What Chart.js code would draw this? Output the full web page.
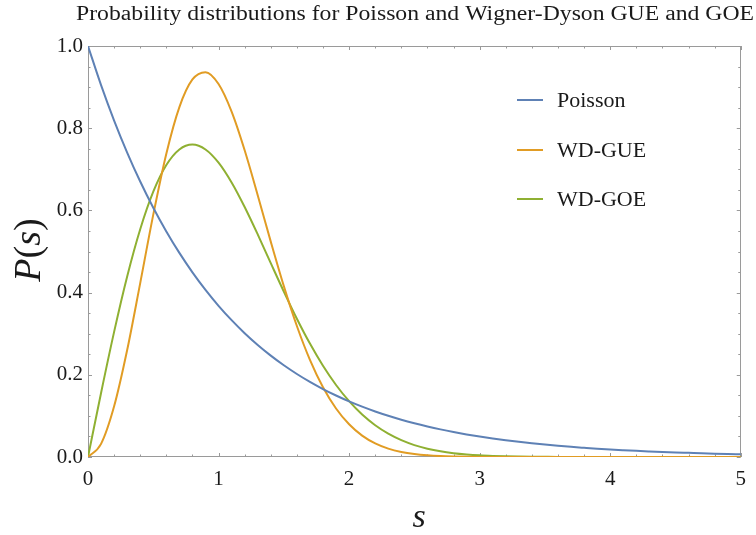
<!DOCTYPE html>
<html><head><meta charset="utf-8">
<script src="https://cdn.jsdelivr.net/npm/chart.js@4.4.0/dist/chart.umd.min.js"></script>
<style>html,body{margin:0;padding:0;background:#fff;overflow:hidden}#wrap{width:756px;height:535px}</style>
</head><body><div id="wrap"><canvas id="c" width="756" height="535"></canvas></div>
<script>
const sValues = [0,0.1,0.2,0.3,0.4,0.5,0.6,0.7,0.8,0.9,1.0,1.1,1.2,1.3,1.4,1.5,1.6,1.7,1.8,1.9,2.0,2.1,2.2,2.3,2.4,2.5,2.6,2.7,2.8,2.9,3.0,3.1,3.2,3.3,3.4,3.5,3.6,3.7,3.8,3.9,4.0,4.1,4.2,4.3,4.4,4.5,4.6,4.7,4.8,4.9,5.0];
const poisson = [1,0.9048,0.8187,0.7408,0.6703,0.6065,0.5488,0.4966,0.4493,0.4066,0.3679,0.3329,0.3012,0.2725,0.2466,0.2231,0.2019,0.1827,0.1653,0.1496,0.1353,0.1225,0.1108,0.1003,0.0907,0.0821,0.0743,0.0672,0.0608,0.0550,0.0498,0.0450,0.0408,0.0369,0.0334,0.0302,0.0273,0.0247,0.0224,0.0202,0.0183,0.0166,0.0150,0.0136,0.0123,0.0111,0.0101,0.0091,0.0082,0.0074,0.0067];
const wdGUE = [0,0.0320,0.1233,0.2602,0.4232,0.5896,0.7380,0.8514,0.9186,0.9364,0.9076,0.8405,0.7464,0.6371,0.5240,0.4158,0.3188,0.2364,0.1698,0.1181,0.0796,0.0521,0.0331,0.0204,0.0122,0.0071,0.0040,0.0022,0.0012,0.0006,0.0003,0.00015,0.00007,0.00003,0.00001,0,0,0,0,0,0,0,0,0,0,0,0,0,0,0,0];
const wdGOE = [0,0.1559,0.3044,0.4391,0.5541,0.6454,0.7104,0.7483,0.7602,0.7483,0.7162,0.6680,0.6083,0.5416,0.4717,0.4025,0.3365,0.2759,0.2220,0.1752,0.1358,0.1033,0.0772,0.0567,0.0409,0.0290,0.0202,0.0138,0.0093,0.0062,0.0040,0.0026,0.0016,0.0010,0.0006,0.0004,0.0002,0.0001,0.00007,0.00004,0.00002,0,0,0,0,0,0,0,0,0,0];
const xTickValues = [0,1,2,3,4,5];
const yTickValues = [0,0.2,0.4,0.6,0.8,1.0];
const seriesNames = ['Poisson','WD-GUE','WD-GOE'];
const seriesColors = ['#5E81B5','#E19C24','#8FB032'];
const titleText = 'Probability distributions for Poisson and Wigner-Dyson GUE and GOE';

const SERIF = '"Liberation Serif", "DejaVu Serif", serif';
const FRAME = '#9a9a9a';
const TEXT = '#1a1a1a';

function pts(ys){ return sValues.map((x,i)=>({x:x,y:ys[i]})); }
const allSeries = [poisson, wdGUE, wdGOE];

const decor = {
  id:'decor',
  beforeDatasetsDraw(chart){
    const ctx = chart.ctx, a = chart.chartArea;
    const xs = chart.scales.x, ys = chart.scales.y;
    ctx.save();
    ctx.strokeStyle = FRAME; ctx.lineWidth = 1;
    ctx.strokeRect(Math.round(a.left)+0.5, Math.round(a.top)+0.5, Math.round(a.right-a.left)-1, Math.round(a.bottom-a.top)-1);
    ctx.beginPath();
    for(let k=0;k<=25;k++){
      const v = k*0.2; const major = (k%5===0);
      const len = major?4:2.5;
      const px = Math.round(xs.getPixelForValue(v))+0.5;
      ctx.moveTo(px,a.bottom); ctx.lineTo(px,a.bottom-len);
      ctx.moveTo(px,a.top); ctx.lineTo(px,a.top+len);
    }
    for(let k=0;k<=20;k++){
      const v = k*0.05; const major = (k%4===0);
      const len = major?4:2.5;
      const py = Math.round(ys.getPixelForValue(v))+0.5;
      ctx.moveTo(a.left,py); ctx.lineTo(a.left+len,py);
      ctx.moveTo(a.right,py); ctx.lineTo(a.right-len,py);
    }
    ctx.stroke();
    ctx.restore();
  },
  afterDraw(chart){
    const ctx = chart.ctx;
    ctx.save();
    ctx.fillStyle = TEXT;
    ctx.font = '20px '+SERIF;
    ctx.textBaseline = 'alphabetic';
    const tw = ctx.measureText(titleText).width;
    const target = 754-76;
    ctx.save();
    ctx.translate(76,19.5);
    ctx.scale(target/tw,1);
    ctx.fillText(titleText,0,0);
    ctx.restore();
    const parts = [['P','italic 38px '+SERIF],['(','38px '+SERIF],['s','italic 38px '+SERIF],[')','38px '+SERIF]];
    let total = 0; const widths=[];
    parts.forEach(p=>{ctx.font=p[1]; const w=ctx.measureText(p[0]).width; widths.push(w); total+=w;});
    ctx.save();
    ctx.translate(40,250);
    ctx.rotate(-Math.PI/2);
    let cx = -total/2;
    parts.forEach((p,i)=>{ctx.font=p[1]; ctx.fillText(p[0],cx,0); cx+=widths[i];});
    ctx.restore();
    ctx.font = 'italic 34px '+SERIF;
    ctx.textAlign = 'center';
    ctx.fillText('s',419,527);
    ctx.textAlign = 'left';
    ctx.textBaseline = 'middle';
    ctx.font = '22px '+SERIF;
    const ly = [100,150,199];
    seriesNames.forEach((n,i)=>{
      ctx.strokeStyle = seriesColors[i]; ctx.lineWidth = 2;
      ctx.beginPath(); ctx.moveTo(517,ly[i]); ctx.lineTo(543,ly[i]); ctx.stroke();
      ctx.fillStyle = TEXT;
      ctx.fillText(n,557,ly[i]+1);
    });
    ctx.restore();
  }
};

new Chart(document.getElementById('c'),{
  type:'scatter',
  data:{datasets: seriesNames.map((n,i)=>({
    label:n, data:pts(allSeries[i]), showLine:true, borderColor:seriesColors[i],
    backgroundColor:seriesColors[i], borderWidth:2, pointRadius:0, pointHoverRadius:0,
    cubicInterpolationMode:'monotone', fill:false
  }))},
  options:{
    responsive:false, devicePixelRatio:1, animation:false,
    layout:{padding:{top:46,right:5,left:0,bottom:0}},
    plugins:{legend:{display:false},title:{display:false},tooltip:{enabled:false}},
    scales:{
      x:{type:'linear',min:0,max:5,
        afterFit(s){s.height=78;},
        afterBuildTicks(s){s.ticks = xTickValues.map(v=>({value:v}));},
        grid:{display:false,drawTicks:false,tickLength:0}, border:{display:false},
        ticks:{color:TEXT,font:{family:SERIF,size:21},padding:10,maxRotation:0,callback:v=>String(v)}},
      y:{type:'linear',min:0,max:1,
        afterFit(s){s.width=88;},
        afterBuildTicks(s){s.ticks = yTickValues.map(v=>({value:v}));},
        grid:{display:false,drawTicks:false,tickLength:0}, border:{display:false},
        ticks:{color:TEXT,font:{family:SERIF,size:21},padding:5,callback:v=>Number(v).toFixed(1)}}
    }
  },
  plugins:[decor]
});
</script></body></html>
